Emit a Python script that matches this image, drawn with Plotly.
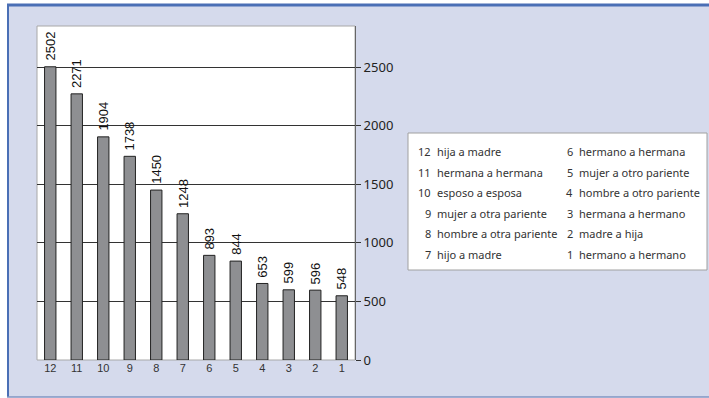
import plotly.graph_objects as go

# Relationship codes (x axis, left to right) and their counts
categories = ["12", "11", "10", "9", "8", "7", "6", "5", "4", "3", "2", "1"]
counts = [2502, 2271, 1904, 1738, 1450, 1248, 893, 844, 653, 599, 596, 548]

# Key entries: code and description, in the order of the two key columns
key_codes = ["12", "11", "10", "9", "8", "7", "6", "5", "4", "3", "2", "1"]
key_names = [
    "hija a madre", "hermana a hermana", "esposo a esposa",
    "mujer a otra pariente", "hombre a otra pariente", "hijo a madre",
    "hermano a hermana", "mujer a otro pariente", "hombre a otro pariente",
    "hermana a hermano", "madre a hija", "hermano a hermano",
]
y_ticks = [0, 500, 1000, 1500, 2000, 2500]

W, H = 709, 398
L, R, T, B = 37, 355, 26, 360   # plot area in pixels


def px(x):
    return (x - L) / (R - L)


def py(y):
    return (B - y) / (B - T)


fig = go.Figure()
fig.add_trace(go.Bar(
    x=categories, y=counts,
    marker=dict(color="#8E8F92", line=dict(color="#222222", width=1)),
    hoverinfo="skip",
))

shapes = [
    # lavender panel
    dict(type="rect", xref="paper", yref="paper", layer="below",
         x0=px(7), x1=px(712), y0=py(4), y1=py(397),
         fillcolor="#D5DAEC", line=dict(width=0)),
    # white plotting area
    dict(type="rect", xref="paper", yref="paper", layer="below",
         x0=0, x1=1, y0=0, y1=1,
         fillcolor="white", line=dict(color="#A8A8A8", width=1)),
    # panel borders
    dict(type="line", xref="paper", yref="paper",
         x0=px(7), x1=px(712), y0=py(5), y1=py(5),
         line=dict(color="#4A6FB5", width=3)),
    dict(type="line", xref="paper", yref="paper",
         x0=px(8), x1=px(8), y0=py(4), y1=py(397),
         line=dict(color="#4A6FB5", width=2)),
    dict(type="line", xref="paper", yref="paper",
         x0=px(7), x1=px(712), y0=py(397), y1=py(397),
         line=dict(color="#7F93C2", width=1.5)),
    # key box
    dict(type="rect", xref="paper", yref="paper",
         x0=px(408), x1=px(707), y0=py(133), y1=py(270),
         fillcolor="white", line=dict(color="#A0A0A0", width=1)),
]

annotations = []

# value labels, rotated, just above each bar (x is the category position)
for pos, val in enumerate(counts):
    annotations.append(dict(
        x=pos, y=val, xref="x", yref="y", text=str(val),
        showarrow=False, textangle=-90, xanchor="center", yanchor="bottom",
        yshift=4,
        font=dict(family="Liberation Sans, Arial", size=13, color="#111111")))

row_y = [151, 172, 192, 213, 233, 254]
key_font = dict(family="Noto Sans, Open Sans", size=11, color="#333333")
for i, (code, name) in enumerate(zip(key_codes, key_names)):
    col, row = divmod(i, 6)
    num_right = 433 if col == 0 else 575
    annotations.append(dict(
        x=px(num_right), y=py(row_y[row]), xref="paper", yref="paper",
        text=code, showarrow=False, xanchor="right", yanchor="middle",
        font=key_font))
    annotations.append(dict(
        x=px(num_right + 2), y=py(row_y[row]), xref="paper", yref="paper",
        text=name, showarrow=False, xanchor="left", yanchor="middle",
        font=key_font))

fig.update_layout(
    width=W, height=H,
    margin=dict(l=L, r=W - R, t=T, b=H - B, pad=0),
    paper_bgcolor="white", plot_bgcolor="rgba(0,0,0,0)",
    bargap=0.57, showlegend=False,
    shapes=shapes, annotations=annotations,
    xaxis=dict(
        type="category", range=[-0.5, len(categories) - 0.5],
        showgrid=False, showline=False, ticks="",
        tickfont=dict(family="Liberation Sans, Arial", size=11, color="#333333"),
        fixedrange=True,
    ),
    yaxis=dict(
        side="right", range=[0, 2850], tickvals=y_ticks,
        showgrid=True, gridcolor="#333333", gridwidth=1,
        showline=True, linecolor="#666666", linewidth=1,
        ticks="outside", ticklen=5, tickcolor="#333333",
        tickfont=dict(family="Noto Sans, Open Sans", size=13, color="#222222"),
        zeroline=False, fixedrange=True,
    ),
)

fig.write_html("out.html")
